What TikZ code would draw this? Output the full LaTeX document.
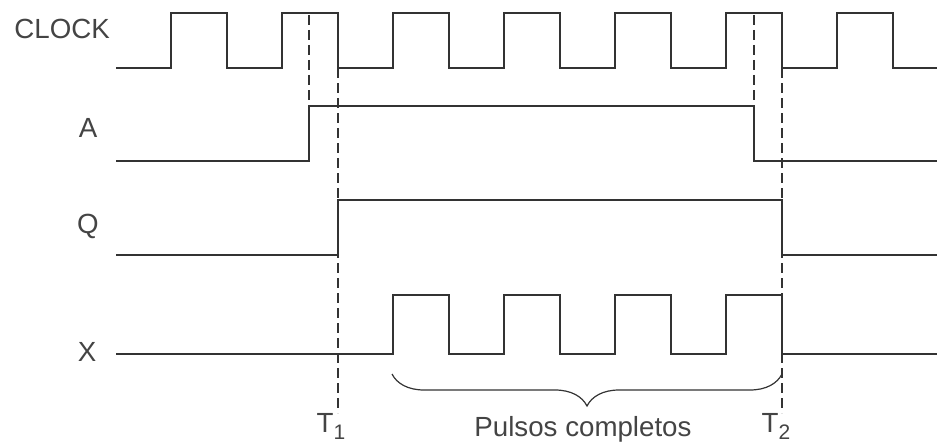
\documentclass[tikz,border=0pt]{standalone}
\usepackage{fontspec}
\setmainfont{Liberation Sans}
\usetikzlibrary{decorations.pathreplacing}

\definecolor{wave}{HTML}{333333}
\definecolor{lbl}{HTML}{444444}

\begin{document}
\begin{tikzpicture}[
  x=1pt, y=-1pt,
  signal/.style={draw=wave,line width=2.9pt,line join=miter},
  marker/.style={draw=wave,line width=1.3pt,dash pattern=on 10pt off 5pt},
  sig/.style={anchor=base,text=lbl,font=\fontsize{27.7}{30}\selectfont,inner sep=0pt},
  bracefig/.style={draw=wave,line width=1.2pt,decorate,decoration={brace,amplitude=32pt}}
]
\useasboundingbox (0,0) rectangle (937,444);

\node[sig,anchor=base east] (clk) at (110,39) {CLOCK};
\node[sig] (a) at (88,137) {A};
\node[sig] (q) at (88,233) {Q};
\node[sig] (x) at (87,361) {X};

\draw[signal] (116,68)
  \foreach \k in {0,...,6} {
    -- ({171+111*\k},68) -- ({171+111*\k},13)
    -- ({227+111*\k},13) -- ({227+111*\k},68)
  } -- (937,68);

\draw[signal] (116,161) -- (309,161) -- (309,106) -- (754,106) -- (754,161) -- (937,161);
\draw[signal] (116,255) -- (338,255) -- (338,200) -- (782,200) -- (782,255) -- (937,255);

\draw[signal] (116,354)
  \foreach \k in {2,...,5} {
    -- ({171+111*\k},354) -- ({171+111*\k},295)
    -- ({227+111*\k},295) -- ({227+111*\k},354)
  } -- (937,354);

\coordinate (t1) at (338,413);
\coordinate (t2) at (782,413);

\draw[marker] (309,15) -- (309,106);
\draw[marker] (754,15) -- (754,106);
\draw[marker] (338,68) -- (t1);
\draw[marker] (782,68) -- (t2);

\coordinate (bl) at (392,374);
\coordinate (br) at (782,374);
\draw[bracefig] (br) -- (bl);

\node[sig,anchor=base] (tl1) at (331,432) {T\raisebox{-7pt}{\fontsize{21}{24}\selectfont 1}};
\node[sig,anchor=base] (tl2) at (776,432) {T\raisebox{-7pt}{\fontsize{21}{24}\selectfont 2}};
\node[sig] (pc) at (583,436) {Pulsos completos};
\end{tikzpicture}
\end{document}
